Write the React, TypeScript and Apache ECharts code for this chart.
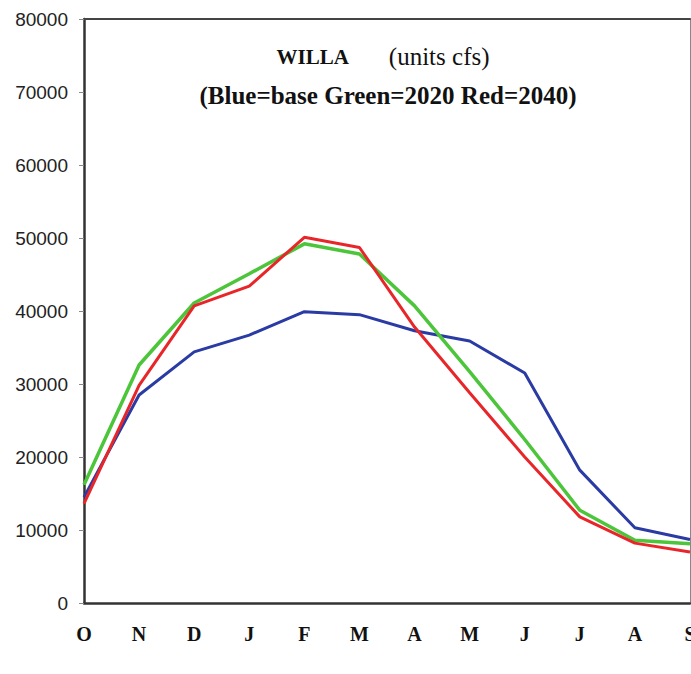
import React, { useEffect, useRef } from "react";
import * as echarts from "echarts";

const months = ["O", "N", "D", "J", "F", "M", "A", "M", "J", "J", "A", "S"];
const baseFlow = [14500, 28500, 34400, 36700, 39900, 39500, 37300, 35900, 31500, 18200, 10300, 8700];
const flow2020 = [16200, 32600, 41100, 45100, 49200, 47800, 40700, 31700, 22400, 12700, 8600, 8100];
const flow2040 = [13600, 29800, 40700, 43400, 50100, 48700, 37800, 28800, 20000, 11800, 8200, 7000];
const yTicks = [0, 10000, 20000, 30000, 40000, 50000, 60000, 70000, 80000];

export default function App() {
  const ref = useRef<HTMLDivElement>(null);
  useEffect(() => {
    document.documentElement.style.overflow = "hidden";
    document.body.style.margin = "0";
    document.body.style.overflow = "hidden";
    if (!ref.current) return;
    const chart = echarts.init(ref.current, null, { renderer: "svg" });
    const serif = "'Liberation Serif', 'Times New Roman', serif";
    const sans = "'Liberation Sans', Arial, sans-serif";
    chart.setOption({
      animation: false,
      backgroundColor: "#ffffff",
      title: [
        {
          text: "{b|WILLA}        {n|(units cfs)}",
          left: 378,
          top: 39,
          textAlign: "center",
          textStyle: {
            rich: {
              b: { fontFamily: serif, fontSize: 21, fontWeight: "bold", color: "#111" },
              n: { fontFamily: serif, fontSize: 25, fontWeight: "normal", color: "#111" },
            },
          },
        },
        {
          text: "(Blue=base Green=2020 Red=2040)",
          left: 383,
          top: 78,
          textAlign: "center",
          textStyle: { fontFamily: serif, fontSize: 25, fontWeight: "bold", color: "#111" },
        },
      ],
      grid: { left: 84, right: 1, top: 19, bottom: 71, containLabel: false, outerBoundsMode: "none" },
      xAxis: [
        {
          type: "category",
          data: months,
          boundaryGap: false,
          axisLine: { show: true, onZero: false, lineStyle: { color: "#333", width: 2.5 } },
          axisTick: { show: false },
          axisLabel: {
            margin: 21,
            interval: 0,
            fontFamily: serif,
            fontSize: 20,
            fontWeight: "bold",
            color: "#111",
          },
          splitLine: { show: false },
        },
        {
          type: "category",
          data: months,
          position: "top",
          boundaryGap: false,
          axisLine: { show: true, onZero: false, lineStyle: { color: "#444", width: 2 } },
          axisTick: { show: false },
          axisLabel: { show: false },
          splitLine: { show: false },
        },
      ],
      yAxis: [
        {
          type: "value",
          min: 0,
          max: yTicks[yTicks.length - 1],
          interval: 10000,
          axisLine: { show: true, onZero: false, lineStyle: { color: "#333", width: 2.5 } },
          axisTick: { show: true, length: 5, lineStyle: { color: "#888", width: 1 } },
          axisLabel: {
            margin: 16,
            fontFamily: sans,
            fontSize: 19,
            color: "#222",
            formatter: (v: number) => String(v),
          },
          splitLine: { show: false },
        },
        {
          type: "value",
          position: "right",
          min: 0,
          max: yTicks[yTicks.length - 1],
          interval: 10000,
          axisLine: { show: true, onZero: false, lineStyle: { color: "#888", width: 1 } },
          axisTick: { show: false },
          axisLabel: { show: false },
          splitLine: { show: false },
        },
      ],
      series: [
        { name: "base", type: "line", data: baseFlow, symbol: "none", lineStyle: { color: "#2a3ba3", width: 3 } },
        { name: "2020", type: "line", data: flow2020, symbol: "none", lineStyle: { color: "#4cc53a", width: 3.5 } },
        { name: "2040", type: "line", data: flow2040, symbol: "none", lineStyle: { color: "#e8262a", width: 3 } },
      ],
    });
    return () => chart.dispose();
  }, []);
  return <div ref={ref} style={{ width: 691, height: 674, position: "absolute", left: 0, top: 0 }} />;
}
